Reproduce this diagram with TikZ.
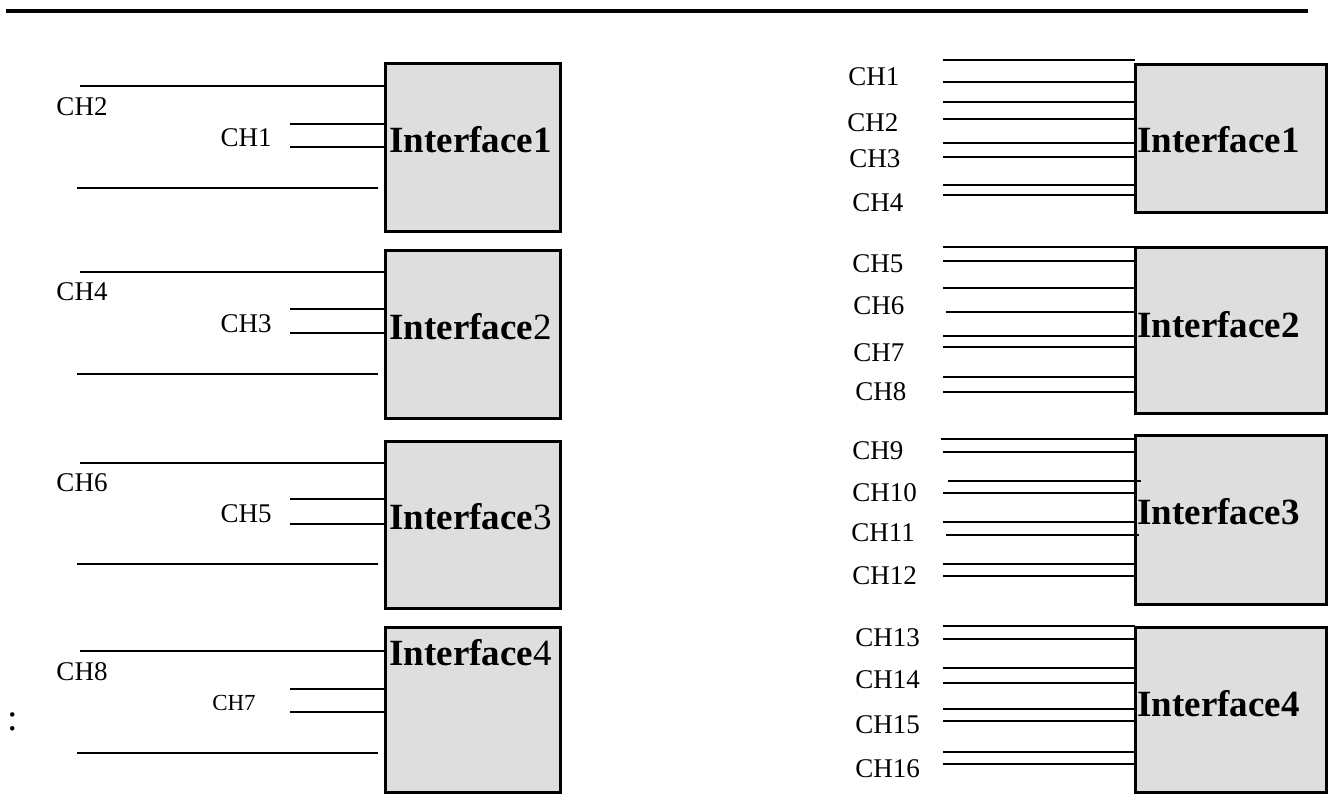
\documentclass[tikz,border=0pt]{standalone}
\usepackage{fontspec}
\setmainfont{Liberation Serif}
\definecolor{boxgray}{HTML}{DEDEDE}
\tikzset{
  ifbox/.style={draw, line width=1.5pt, fill=boxgray, inner sep=0pt, outer sep=0pt},
  rulerline/.style={line width=2pt},
  wire/.style={line width=1.05pt},
  thinwire/.style={line width=0.85pt},
  chlbl/.style={inner sep=0pt, font=\fontsize{13.5}{15}\selectfont},
  iflbl/.style={inner sep=0pt, anchor=west, font=\fontsize{18.5}{20}\selectfont},
}
\begin{document}
\begin{tikzpicture}[x=0.5pt, y=-0.5pt]
\useasboundingbox (0,0) rectangle (1332,793);

% header rule
\coordinate (ruleL) at (6,10.5);
\coordinate (ruleR) at (1308,10.5);
\draw[rulerline] (ruleL) -- (ruleR);

% left column: interface blocks
\node[ifbox, minimum width=87.5pt, minimum height=84pt]   (L1) at (472.5,147)   {};
\node[ifbox, minimum width=87.5pt, minimum height=84pt]   (L2) at (472.5,334)   {};
\node[ifbox, minimum width=87.5pt, minimum height=83.5pt] (L3) at (472.5,524.5) {};
\node[ifbox, minimum width=87.5pt, minimum height=82.5pt] (L4) at (472.5,709.5) {};

\node[iflbl] (tL1) at (389,140)   {\bfseries Interface1};
\node[iflbl] (tL2) at (389,326.7) {{\bfseries Interface}2};
\node[iflbl] (tL3) at (389,517)   {{\bfseries Interface}3};
\node[iflbl] (tL4) at (389,653)   {{\bfseries Interface}4};

% left column: long lines, channel pairs and labels
\foreach \b/\ya/\yla/\yp/\yq/\ylb/\yz/\la/\lb/\xlb/\fs in {
  L1/86/107/124/147/138/188/CH2/CH1/246/13.5,
  L2/271.7/291.7/309/333/323.5/373.7/CH4/CH3/246/13.5,
  L3/462.7/483/499.3/524.3/514/564.3/CH6/CH5/246/13.5,
  L4/650.7/671.7/688.7/712.3/702.7/752.7/CH8/CH7/234/11.5}{
  \coordinate (a\b) at (79.6,\ya);
  \draw[wire] (a\b) -- (a\b -| \b.west);
  \node[chlbl] (l\la) at (82,\yla) {\la};
  \coordinate (p\b) at (290,\yp);
  \coordinate (q\b) at (290,\yq);
  \draw[wire] (p\b) -- (p\b -| \b.west);
  \draw[wire] (q\b) -- (q\b -| \b.west);
  \node[chlbl, font=\fontsize{\fs}{\fs}\selectfont] (l\lb) at (\xlb,\ylb) {\lb};
  \coordinate (z\b) at (76.5,\yz);
  \draw[wire] (z\b) -- ([xshift=-3.5pt]z\b -| \b.west);
}

% colon at the lower left
\node[inner sep=0pt, font=\fontsize{19}{20}\selectfont] (colon) at (13,722) {:};

% right column: interface blocks
\node[ifbox, minimum width=95.5pt, minimum height=74pt]   (R1) at (1230.5,138)   {};
\node[ifbox, minimum width=95.5pt, minimum height=83pt]   (R2) at (1230.5,330)   {};
\node[ifbox, minimum width=95.5pt, minimum height=84.5pt] (R3) at (1230.5,519.5) {};
\node[ifbox, minimum width=95.5pt, minimum height=82.5pt] (R4) at (1230.5,709.5) {};

\node[iflbl] (tR1) at (1137,140)   {\bfseries Interface1};
\node[iflbl] (tR2) at (1137,325)   {\bfseries Interface2};
\node[iflbl] (tR3) at (1137,511.7) {\bfseries Interface3};
\node[iflbl] (tR4) at (1137,704)   {\bfseries Interface4};

% right column: channel lines (y / start x / overshoot past the block)
\foreach \b/\y/\xs/\dx [count=\i] in {
  R1/60/943/0, R1/81.7/943/0, R1/101.7/943/0, R1/119/943/0,
  R1/143.3/943/0, R1/157.3/943/0, R1/185/943/0, R1/195.3/943/0,
  R2/247.3/943/0, R2/260.7/943/0, R2/287.7/943/0, R2/311.7/946/0,
  R2/335.7/943/0, R2/347.3/943/0, R2/376.7/943/0, R2/392.3/943/0,
  R3/439/941/0, R3/451.7/943/0, R3/480.7/948/2.85, R3/493.3/943/0,
  R3/522.3/943/0, R3/535/946/2, R3/564/943/0, R3/576/943/0,
  R4/626/943/0, R4/639.3/943/0, R4/668.3/943/0, R4/682.7/943/0,
  R4/709.3/943/0, R4/721/943/0, R4/751.7/943/0, R4/764/943/0}{
  \coordinate (w\i) at (\xs,\y);
  \draw[thinwire] (w\i) -- ([xshift=\dx pt]w\i -| \b.west);
}

% right column: channel labels
\foreach \t/\x/\y in {
  CH1/848/76.7, CH2/847/122.7, CH3/849/159, CH4/852/202.7,
  CH5/852/263.3, CH6/853/306, CH7/853/352.7, CH8/855/391.7,
  CH9/852/450.7, CH10/852/492.7, CH11/851/532.7, CH12/852/576,
  CH13/855/637.3, CH14/855/680, CH15/855/725, CH16/855/768.3}{
  \node[chlbl, anchor=west] (r\t) at (\x,\y) {\t};
}
\end{tikzpicture}
\end{document}
